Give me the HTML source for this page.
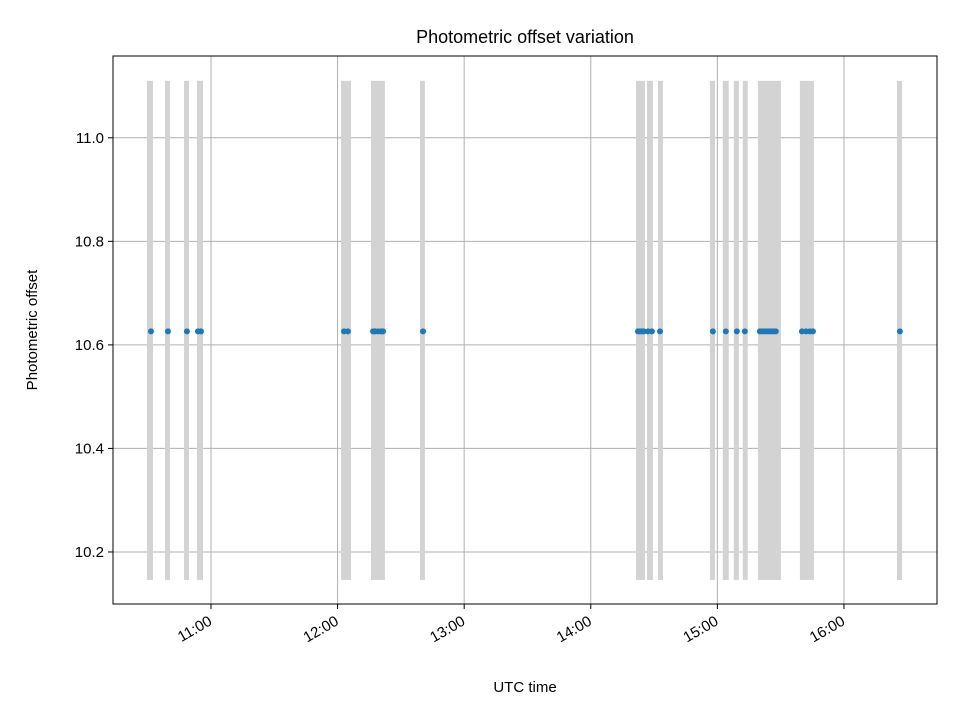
<!DOCTYPE html>
<html><head><meta charset="utf-8"><style>body{margin:0;background:#fff}svg{display:block;font-family:"Liberation Sans",sans-serif}</style></head>
<body>
<svg id="chart" width="960" height="720"></svg>
<script>
const spanStarts=[10.494,10.637,10.787,10.889,12.027,12.264,12.651,14.357,14.444,14.531,14.941,15.043,15.130,15.201,15.320,15.652,16.419];
const spanEnds=[10.542,10.676,10.826,10.937,12.106,12.374,12.690,14.428,14.491,14.570,14.981,15.090,15.170,15.240,15.502,15.763,16.459];
const spanLow=10.146, spanHigh=11.110;
const pointTimes=[10.526,10.660,10.810,10.897,10.921,12.051,12.082,12.280,12.295,12.319,12.343,12.359,12.675,14.373,14.389,14.404,14.420,14.452,14.483,14.547,14.965,15.067,15.154,15.217,15.336,15.354,15.372,15.390,15.408,15.426,15.444,15.462,15.668,15.700,15.731,15.755,16.442];
const pointValues=pointTimes.map(()=>10.626);
const xTicks=[11,12,13,14,15,16];
const xTickLabels=["11:00","12:00","13:00","14:00","15:00","16:00"];
const yTicks=[10.2,10.4,10.6,10.8,11.0];
const yTickLabels=["10.2","10.4","10.6","10.8","11.0"];
const L=113,R=937,T=56,B=604;
const x0=10.226,x1=16.735,y0=10.0995,y1=11.158;
const X=v=>L+(v-x0)/(x1-x0)*(R-L);
const Y=v=>B-(v-y0)/(y1-y0)*(B-T);
const svg=document.getElementById('chart');
const NS='http://www.w3.org/2000/svg';
function mk(tag,attrs,parent){const e=document.createElementNS(NS,tag);for(const k in attrs)e.setAttribute(k,attrs[k]);(parent||svg).appendChild(e);return e;}
xTicks.forEach((t,i)=>{const g=mk('line',{x1:X(t),x2:X(t),y1:T,y2:B,stroke:'#b0b0b0','stroke-width':1});

});
yTicks.forEach((t,i)=>{const g=mk('line',{x1:L,x2:R,y1:Y(t),y2:Y(t),stroke:'#b0b0b0','stroke-width':1});

});
spanStarts.forEach((s,i)=>{const r=mk('rect',{x:X(s),y:Y(spanHigh),width:Math.max(1,X(spanEnds[i])-X(s)),height:Y(spanLow)-Y(spanHigh),fill:'#d3d3d3'});

});
pointTimes.forEach((t,i)=>{const c=mk('circle',{cx:X(t),cy:Y(pointValues[i]),r:3,fill:'#1f77b4'});

});
const f=mk('rect',{x:L,y:T,width:R-L,height:B-T,fill:'none',stroke:'#000','stroke-width':1});


xTicks.forEach((t,i)=>{mk('line',{x1:X(t),x2:X(t),y1:B,y2:B+5,stroke:'#000'});
const ax=X(t)+2, ay=B+20;
const tx=mk('text',{x:ax,y:ay,'font-size':15,'text-anchor':'end',transform:`rotate(-30 ${ax} ${ay})`});
tx.textContent=xTickLabels[i];

});
yTicks.forEach((t,i)=>{mk('line',{x1:L-5,x2:L,y1:Y(t),y2:Y(t),stroke:'#000'});
const tx=mk('text',{x:L-9,y:Y(t)+5,'font-size':15,'text-anchor':'end'});
tx.textContent=yTickLabels[i];

});
const title=mk('text',{x:(L+R)/2,y:43,'font-size':18,'text-anchor':'middle'});title.textContent='Photometric offset variation';


const xl=mk('text',{x:(L+R)/2,y:692,'font-size':15,'text-anchor':'middle'});xl.textContent='UTC time';


const yl=mk('text',{x:37,y:(T+B)/2,'font-size':15,'text-anchor':'middle',transform:`rotate(-90 37 ${(T+B)/2})`});yl.textContent='Photometric offset';


</script>
</body></html>
